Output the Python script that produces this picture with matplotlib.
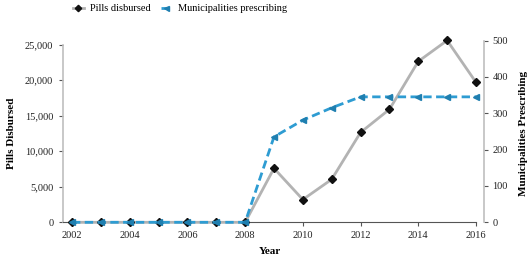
import matplotlib
matplotlib.use("Agg")
import matplotlib.pyplot as plt
from matplotlib.ticker import FuncFormatter

years = [2002, 2003, 2004, 2005, 2006, 2007, 2008, 2009, 2010, 2011, 2012, 2013, 2014, 2015, 2016]
pills = [0, 0, 0, 0, 0, 0, 0, 7600, 3200, 6050, 12650, 15900, 22650, 25600, 19700]
munis = [0, 0, 0, 0, 0, 0, 0, 235, 281, 315, 345, 345, 345, 345, 345]
xticks = [2002, 2004, 2006, 2008, 2010, 2012, 2014, 2016]
left_ticks = [0, 5000, 10000, 15000, 20000, 25000]
right_ticks = [0, 100, 200, 300, 400, 500]

plt.rcParams['font.family'] = ['Liberation Serif', 'DejaVu Serif']
plt.rcParams['font.size'] = 7.5

W, H = 532, 259
fig = plt.figure(figsize=(W / 100, H / 100), dpi=100)

l, r, t, b = 63, 476, 44.7, 222.3
ax = fig.add_axes([l / W, 1 - b / H, (r - l) / W, (b - t) / H])
r2 = 484
ax2 = fig.add_axes([l / W, 1 - b / H, (r2 - l) / W, (b - 40.5) / H])
ax2.patch.set_alpha(0)

px_per_year = (476 - 72) / 14
x0 = 2002 - (72 - l) / px_per_year
ax.set_xlim(x0, 2016)
ax2.set_xlim(x0, 2016 + (r2 - 476) / px_per_year)
ax.set_ylim(0, 25000)
ax2.set_ylim(0, 500)

gray = '#bfbfbf'
blue = '#2e9cd2'

l1, = ax.plot(years, pills, color='#b3b3b3', lw=2, marker='D', ms=3.6,
              mfc='#111111', mec='#111111', zorder=3, label='Pills disbursed', clip_on=False)
l2, = ax2.plot(years, munis, color=blue, lw=2, ls=(0, (3, 1.6)), marker='<', ms=4,
               mfc='#1f7fb0', mec='#1f7fb0', zorder=4, label='Municipalities prescribing',
               clip_on=False)

for s in ['top', 'right']:
    ax.spines[s].set_visible(False)
ax.spines['left'].set_color(gray)
ax.spines['left'].set_linewidth(1.2)
ax.spines['bottom'].set_color('#555555')
ax.spines['bottom'].set_linewidth(0.8)
ax.set_xticks(xticks)
ax.set_yticks(left_ticks)
ax.yaxis.set_major_formatter(FuncFormatter(lambda v, p: f"{int(v):,}"))
ax.tick_params(axis='y', length=3, width=0.8, color='#555555', pad=4, labelcolor='#222222')
ax.tick_params(axis='x', length=3, width=0.8, color='#555555', pad=3, labelcolor='#222222')

for s in ['top', 'left', 'bottom']:
    ax2.spines[s].set_visible(False)
ax2.spines['right'].set_color(gray)
ax2.spines['right'].set_linewidth(1.2)
ax2.set_xticks([])
ax2.yaxis.tick_right()
ax2.yaxis.set_label_position('right')
ax2.set_yticks(right_ticks)
ax2.tick_params(axis='y', length=3, width=0.8, color='#555555', pad=3, labelcolor='#222222')

fig.text(12 / W, 1 - 133 / H, 'Pills Disbursed', rotation=90, ha='center', va='center',
         fontweight='bold', fontsize=8)
fig.text(523 / W, 1 - 133 / H, 'Municipalities Prescribing', rotation=90, ha='center', va='center',
         fontweight='bold', fontsize=8)
fig.text(270 / W, 1 - 252 / H, 'Year', ha='center', va='center', fontweight='bold', fontsize=8)

fig.legend(handles=[l1, l2], loc='center', bbox_to_anchor=(180 / W, 1 - 8.5 / H), ncol=2,
           frameon=False, handlelength=1.0, handletextpad=0.6, columnspacing=1.0,
           fontsize=7.5, markerscale=0.9)

fig.savefig('out.png', dpi=100)
